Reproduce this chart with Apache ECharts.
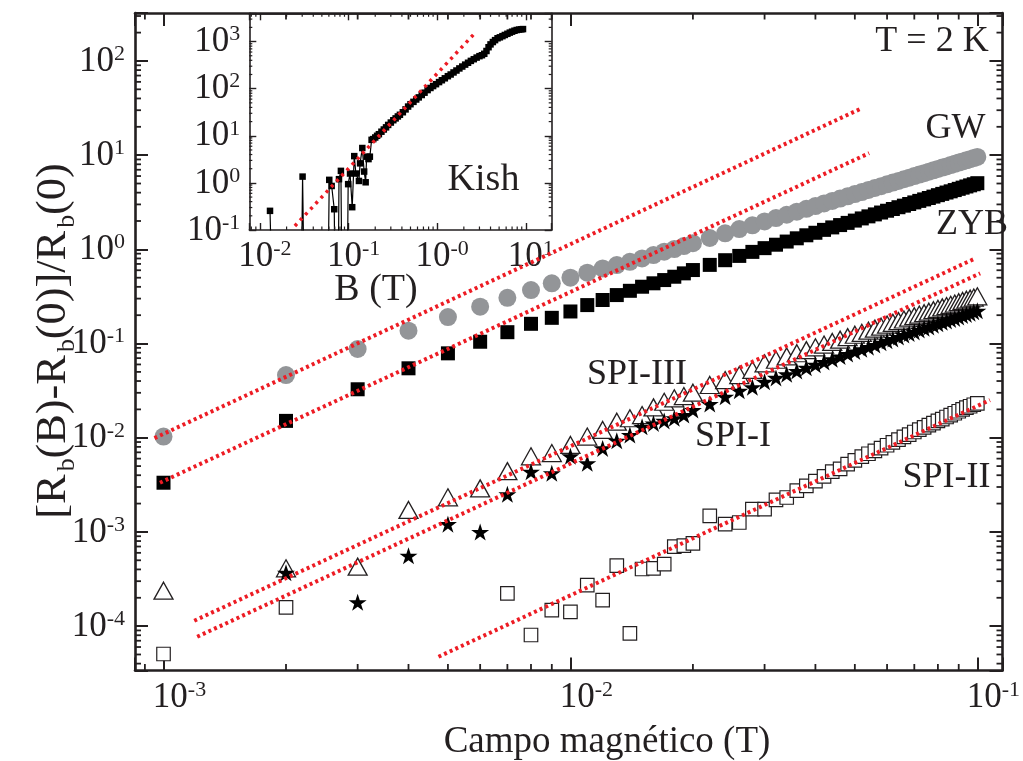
<!DOCTYPE html>
<html>
<head>
<meta charset="utf-8">
<script src="https://cdn.jsdelivr.net/npm/echarts@6/dist/echarts.min.js"></script>
<style>
  html, body { margin: 0; padding: 0; background: #fff; }
  #chart { width: 1023px; height: 761px; }
</style>
</head>
<body>
<div id="chart"></div>
<script>
// ---- Data: magnetoresistance at T = 2 K ----
// Field steps in millitesla (1 mT up to 20 mT, then 2 mT up to 100 mT)
const fieldMilliTesla = [1,2,3,4,5,6,7,8,9,10,11,12,13,14,15,16,17,18,19,20,
  22,24,26,28,30,32,34,36,38,40,42,44,46,48,50,52,54,56,58,60,
  62,64,66,68,70,72,74,76,78,80,82,84,86,88,90,92,94,96,98,100];

const gw = [0.0103,0.0463,0.0875,0.137,0.191,0.246,0.306,0.370,0.436,0.500,
  0.565,0.628,0.681,0.738,0.802,0.869,0.944,1.007,1.084,1.161,
  1.32,1.48,1.64,1.80,1.98,2.15,2.33,2.51,2.69,2.88,
  3.07,3.27,3.46,3.66,3.86,4.06,4.27,4.48,4.69,4.90,
  5.12,5.33,5.55,5.77,6.00,6.22,6.44,6.68,6.90,7.15,
  7.38,7.60,7.85,8.09,8.34,8.57,8.81,9.06,9.31,9.57];

const zyb = [0.00333,0.0151,0.0327,0.0546,0.0787,0.1045,0.132,0.162,0.1875,0.219,
  0.256,0.290,0.327,0.363,0.401,0.436,0.472,0.512,0.556,0.603,
  0.684,0.767,0.852,0.940,1.03,1.12,1.21,1.31,1.41,1.50,
  1.61,1.71,1.81,1.91,2.02,2.13,2.24,2.35,2.46,2.57,
  2.68,2.80,2.91,3.03,3.15,3.27,3.39,3.51,3.63,3.76,
  3.88,4.01,4.13,4.26,4.39,4.52,4.65,4.78,4.91,5.04];

const spi3 = [2.38e-4,4.11e-4,4.28e-4,1.71e-3,2.33e-3,2.90e-3,4.42e-3,6.35e-3,6.87e-3,8.38e-3,
  1.03e-2,1.21e-2,1.48e-2,1.61e-2,1.74e-2,2.10e-2,2.41e-2,2.62e-2,2.77e-2,3.01e-2,
  3.63e-2,4.10e-2,4.63e-2,5.24e-2,6.17e-2,6.73e-2,7.29e-2,7.89e-2,8.51e-2,9.12e-2,
  9.75e-2,0.104,0.110,0.117,0.124,0.130,0.137,0.144,0.151,0.159,
  0.166,0.173,0.180,0.188,0.195,0.203,0.210,0.218,0.226,0.234,
  0.242,0.250,0.258,0.266,0.275,0.283,0.292,0.300,0.308,0.317];

const spi1 = [null,3.69e-4,1.79e-4,5.58e-4,1.21e-3,1.00e-3,2.51e-3,4.36e-3,4.19e-3,6.35e-3,
  5.35e-3,7.71e-3,9.29e-3,1.07e-2,1.31e-2,1.42e-2,1.51e-2,1.61e-2,1.74e-2,1.97e-2,
  2.28e-2,2.72e-2,3.16e-2,3.43e-2,3.94e-2,4.32e-2,4.71e-2,5.12e-2,5.53e-2,5.96e-2,
  6.38e-2,6.82e-2,7.29e-2,7.74e-2,8.22e-2,8.69e-2,9.16e-2,9.66e-2,0.102,0.107,
  0.112,0.117,0.123,0.128,0.133,0.139,0.145,0.150,0.156,0.162,
  0.168,0.173,0.180,0.185,0.191,0.198,0.204,0.210,0.217,0.223];

const spi2 = [5.06e-5,1.58e-4,null,null,null,null,2.23e-4,8.05e-5,1.48e-4,1.42e-4,
  2.73e-4,1.89e-4,4.38e-4,8.38e-5,4.04e-4,4.10e-4,4.56e-4,6.97e-4,7.14e-4,7.57e-4,
  1.48e-3,1.21e-3,1.26e-3,1.75e-3,1.75e-3,2.19e-3,2.32e-3,2.75e-3,3.09e-3,3.47e-3,
  3.89e-3,4.37e-3,4.68e-3,5.25e-3,5.75e-3,6.31e-3,6.76e-3,7.24e-3,7.76e-3,8.32e-3,
  8.91e-3,9.55e-3,1.02e-2,1.08e-2,1.15e-2,1.22e-2,1.29e-2,1.36e-2,1.43e-2,1.51e-2,
  1.58e-2,1.66e-2,1.74e-2,1.82e-2,1.91e-2,2.00e-2,2.09e-2,2.16e-2,2.24e-2,2.32e-2];

// B^2 reference lines, [field (T), ratio] end points
const fitGW   = [[9.5e-4, 9.9e-3], [0.0521, 31.6]];
const fitZYB  = [[9.8e-4, 3.33e-3], [0.0542, 10.5]];
const fitSPI3 = [[1.19e-3, 1.14e-4], [0.0989, 0.802]];
const fitSPI1 = [[1.21e-3, 7.71e-5], [0.1016, 0.556]];
const fitSPI2 = [[4.74e-3, 4.73e-5], [0.1074, 0.0251]];

// Inset: Kish graphite (values at or below zero plotted far under the axis)
const kishField = [0.013,0.014,0.029,0.0303,0.032,0.058,0.0606,0.0645,0.069,0.071,
  0.076,0.078,0.082,0.085,0.096,0.099,0.104,0.110,0.116,0.121,
  0.131,0.135,0.143,0.150,0.156,0.160,0.168,0.174,0.182,
  0.19,0.20,0.21,0.22,0.235,0.25,0.265,0.28,0.30,0.32,0.34,0.36,0.38,0.41,0.44,0.47,0.50,
  0.54,0.58,0.62,0.67,0.72,0.78,0.84,0.90,0.97,1.05,1.13,1.22,1.32,1.42,1.53,1.65,1.78,
  1.92,2.07,2.23,2.40,2.59,2.79,3.00,3.20,3.40,3.60,3.80,4.00,4.25,4.50,4.80,5.10,5.45,
  5.80,6.20,6.60,7.00,7.45,7.90,8.40,8.90,9.30];
const kishValue = [0.255,0.001,0.001,1.36,0.001,0.001,1.16,0.86,0.276,0.001,
  0.001,1.2,1.8,0.001,0.001,0.94,1.58,0.305,3.7,1.58,
  1.1,2.6,5.5,1.74,1.03,3.6,3.2,3.6,8.2,
  8.5,9.2,10.0,10.8,12.2,13.6,15.1,17.0,19.1,21.4,23.4,25.7,27.9,31.6,36.3,41.7,46.8,
  52.5,58.9,65.3,73.3,82.2,93.3,103.5,113.5,124.5,138,151,166,184,200,221,243,269,
  295,324,355,389,422,457,490,513,550,631,759,871,977,1072,1175,1230,1303,
  1380,1462,1549,1622,1698,1758,1799,1820,1841];
const fitKish = [[0.0248, 0.122], [2.73, 1585]];

// Tick labels: decade exponents and the superscript text shown for each
const mainXExp = [-3, -2, -1];       const mainXSup = ['-3', '-2', '-1'];
const mainYExp = [-4, -3, -2, -1, 0, 1, 2];
const mainYSup = ['-4', '-3', '-2', '-1', '0', '1', '2'];
const insetXExp = [-2, -1, 0, 1];    const insetXSup = ['-2', '-1', '-0', '1'];
const insetYExp = [-1, 0, 1, 2, 3];  const insetYSup = ['-1', '0', '1', '2', '3'];

// ---- Layout and style ----
const serif = "'Liberation Serif', 'Times New Roman', serif";
const ink = '#231f20';
const red = '#ed1c24';
const MAIN = { xMin: 8.51e-4, xMax: 0.1153, yMin: 3.38e-5, yMax: 323 };
const INSET = { xMin: 0.00759, xMax: 19.6, yMin: 0.1, yMax: 3981 };

const pairs = (xs, ys) => xs.map((x, i) => [x, ys[i]]).filter(p => p[1] != null);
const fieldTesla = fieldMilliTesla.map(v => v / 1000);

function minorTicks(lo, hi) {
  const out = [];
  for (let e = Math.floor(Math.log10(lo)); e <= Math.ceil(Math.log10(hi)); e++) {
    for (let m = 2; m <= 9; m++) {
      const v = m * Math.pow(10, e);
      if (v > lo && v < hi) out.push(v);
    }
  }
  return out;
}

function labelFormatter(exps, sups) {
  return function (v) {
    const e = Math.log10(v);
    const r = Math.round(e);
    if (Math.abs(e - r) > 1e-6) return '';
    const i = exps.indexOf(r);
    return i < 0 ? '' : '{b|10}{s|' + sups[i] + '}';
  };
}

const richLabel = {
  b: { fontFamily: serif, fontSize: 35, color: ink, lineHeight: 36, verticalAlign: 'bottom' },
  s: { fontFamily: serif, fontSize: 22, color: ink, lineHeight: 22, verticalAlign: 'top' }
};

function logAxis(o) {
  return {
    type: 'log', logBase: 10, gridIndex: o.grid, position: o.pos,
    min: o.min, max: o.max,
    axisLine: { show: true, onZero: false, lineStyle: { color: ink, width: o.lw } },
    axisTick: { show: true, inside: true, length: o.tickLen, lineStyle: { color: ink, width: o.tw } },
    axisLabel: o.fmt ? { show: true, formatter: o.fmt, rich: richLabel, margin: o.margin,
      padding: o.pad || 0, showMinLabel: true, showMaxLabel: true } : { show: false },
    splitLine: { show: false },
    minorTick: { show: false }
  };
}

// short inward ticks at 2..9 x 10^n, drawn on both opposite edges of a grid
function minorTickSeries(xIdx, yIdx, dir, values, ref, len, width) {
  return {
    type: 'custom', xAxisIndex: xIdx, yAxisIndex: yIdx, silent: true, z: 6, clip: false,
    encode: { x: 0, y: 1 },
    data: values.map(v => dir === 'x' ? [v, ref] : [ref, v]),
    renderItem: function (params, api) {
      const cs = params.coordSys;
      const p = api.coord([api.value(0), api.value(1)]);
      const st = { stroke: ink, lineWidth: width };
      if (dir === 'x') {
        const x = p[0], yb = cs.y + cs.height, yt = cs.y;
        return { type: 'group', children: [
          { type: 'line', shape: { x1: x, y1: yb, x2: x, y2: yb - len }, style: st },
          { type: 'line', shape: { x1: x, y1: yt, x2: x, y2: yt + len }, style: st }
        ] };
      }
      const y = p[1], xl = cs.x, xr = cs.x + cs.width;
      return { type: 'group', children: [
        { type: 'line', shape: { x1: xl, y1: y, x2: xl + len, y2: y }, style: st },
        { type: 'line', shape: { x1: xr, y1: y, x2: xr - len, y2: y }, style: st }
      ] };
    }
  };
}

function fitLine(data, xIdx, yIdx, width, dash) {
  return {
    type: 'line', xAxisIndex: xIdx, yAxisIndex: yIdx, data: data, showSymbol: false,
    silent: true, z: 8, clip: true,
    lineStyle: { color: red, width: width, type: dash, cap: 'butt' }
  };
}

const starPath = 'path://M50,0 L61.2,34.5 L97.6,34.5 L68.2,55.9 L79.4,90.5 L50,69.1 L20.6,90.5 L31.8,55.9 L2.4,34.5 L38.8,34.5 Z';

function label(text, x, y, size) {
  return { type: 'text', x: x, y: y, z: 20, silent: true,
    style: { text: text, fill: ink, font: (size || 36) + 'px ' + serif,
      textAlign: 'center', textVerticalAlign: 'middle' } };
}

function scatter(name, ys, symbol, size, itemStyle, z) {
  return { name: name, type: 'scatter', xAxisIndex: 0, yAxisIndex: 0, z: z || 3,
    data: pairs(fieldTesla, ys), symbol: symbol, symbolSize: size,
    itemStyle: Object.assign({ opacity: 1 }, itemStyle) };
}

const chart = echarts.init(document.getElementById('chart'), null, { renderer: 'canvas' });

chart.setOption({
  animation: false,
  backgroundColor: '#fff',
  grid: [
    { left: 135, top: 13, right: 5.3, bottom: 90.5, containLabel: false },
    { left: 249.3, top: 13.3, right: 1023 - 551.7, bottom: 761 - 230, containLabel: false,
      show: true, backgroundColor: '#fff', borderWidth: 0 }
  ],
  xAxis: [
    logAxis({ grid: 0, pos: 'bottom', min: MAIN.xMin, max: MAIN.xMax, lw: 2.6, tickLen: 13, tw: 2,
      fmt: labelFormatter(mainXExp, mainXSup), margin: 9, pad: [0, 0, 0, 32] }),
    logAxis({ grid: 0, pos: 'top', min: MAIN.xMin, max: MAIN.xMax, lw: 2.6, tickLen: 13, tw: 2 }),
    logAxis({ grid: 1, pos: 'bottom', min: INSET.xMin, max: INSET.xMax, lw: 1.6, tickLen: 7, tw: 1.4,
      fmt: labelFormatter(insetXExp, insetXSup), margin: 8, pad: [0, 0, 0, 10] }),
    logAxis({ grid: 1, pos: 'top', min: INSET.xMin, max: INSET.xMax, lw: 1.6, tickLen: 7, tw: 1.4 })
  ],
  yAxis: [
    logAxis({ grid: 0, pos: 'left', min: MAIN.yMin, max: MAIN.yMax, lw: 2.6, tickLen: 13, tw: 2,
      fmt: labelFormatter(mainYExp, mainYSup), margin: 10 }),
    logAxis({ grid: 0, pos: 'right', min: MAIN.yMin, max: MAIN.yMax, lw: 2.6, tickLen: 13, tw: 2 }),
    logAxis({ grid: 1, pos: 'left', min: INSET.yMin, max: INSET.yMax, lw: 1.6, tickLen: 7, tw: 1.4,
      fmt: labelFormatter(insetYExp, insetYSup), margin: 9 }),
    logAxis({ grid: 1, pos: 'right', min: INSET.yMin, max: INSET.yMax, lw: 1.6, tickLen: 7, tw: 1.4 })
  ],
  series: [
    minorTickSeries(0, 0, 'x', minorTicks(MAIN.xMin, MAIN.xMax), 1, 6.5, 1.8),
    minorTickSeries(0, 0, 'y', minorTicks(MAIN.yMin, MAIN.yMax), 0.01, 6, 1.8),
    minorTickSeries(2, 2, 'x', minorTicks(INSET.xMin, INSET.xMax), 1, 3.5, 1.2),
    minorTickSeries(2, 2, 'y', minorTicks(INSET.yMin, INSET.yMax), 1, 3, 1.2),
    scatter('GW', gw, 'circle', 18, { color: '#939598' }),
    scatter('ZYB', zyb, 'rect', 14, { color: '#000' }),
    scatter('SPI-III', spi3, 'triangle', [19, 17], { color: '#fff', borderColor: ink, borderWidth: 1.3 }),
    scatter('SPI-I', spi1, starPath, [18, 17], { color: '#000' }, 4),
    scatter('SPI-II', spi2, 'rect', 13.5, { color: '#fff', borderColor: ink, borderWidth: 1.2 }),
    fitLine(fitGW, 0, 0, 4, [3, 3.2]),
    fitLine(fitZYB, 0, 0, 4, [3, 3.2]),
    fitLine(fitSPI3, 0, 0, 4, [3, 3.2]),
    fitLine(fitSPI1, 0, 0, 4, [3, 3.2]),
    fitLine(fitSPI2, 0, 0, 4, [3, 3.2]),
    { name: 'Kish', type: 'line', xAxisIndex: 2, yAxisIndex: 2, z: 3, clip: true,
      data: pairs(kishField, kishValue), symbol: 'rect', symbolSize: 6.5, showSymbol: true,
      lineStyle: { color: '#000', width: 1.2 }, itemStyle: { color: '#000', opacity: 1 } },
    fitLine(fitKish, 2, 2, 3.5, [3, 4.6])
  ],
  graphic: [
    label('T = 2 K', 932, 42),
    label('GW', 955.5, 128.5),
    label('ZYB', 972, 225),
    label('SPI-III', 637, 374.5),
    label('SPI-I', 733, 436.5),
    label('SPI-II', 946.5, 478),
    label('Kish', 483.5, 180.5, 38),
    label('B (T)', 376, 290, 38),
    label('Campo magnético (T)', 607, 742, 37),
    { type: 'text', x: 56, y: 341, rotation: Math.PI / 2, scaleX: 1.03, z: 20, silent: true,
      style: {
        text: '{t|[R}{u|b}{t|(B)-R}{u|b}{t|(0)]/R}{u|b}{t|(0)}',
        textAlign: 'center', textVerticalAlign: 'middle',
        rich: {
          t: { fontFamily: serif, fontSize: 43, fill: ink, lineHeight: 47, verticalAlign: 'top' },
          u: { fontFamily: serif, fontSize: 25, fill: ink, lineHeight: 25, verticalAlign: 'bottom', padding: [23, 0, 0, 3] }
        }
      } }
  ]
});
</script>
</body>
</html>
